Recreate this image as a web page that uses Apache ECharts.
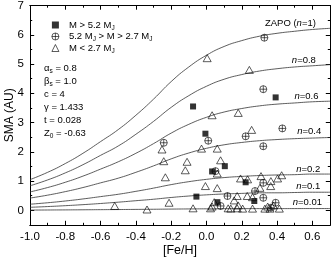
<!DOCTYPE html>
<html><head><meta charset="utf-8">
<script src="https://cdn.jsdelivr.net/npm/echarts@6/dist/echarts.min.js"></script>
<style>html,body{margin:0;padding:0;background:#fff}#c{width:332px;height:261px}</style>
</head><body><div id="c"></div>
<script>
// ---- data ----
const curveX = [-1.0,-0.9,-0.8,-0.7,-0.6,-0.5,-0.4,-0.3,-0.2,-0.1,0.0,0.1,0.2,0.3,0.4,0.5,0.6,0.7];
const zapo  = [1.05,1.30,1.60,1.95,2.35,2.76,3.25,3.80,4.40,4.90,5.30,5.60,5.80,5.95,6.05,6.12,6.18,6.22];
const n08   = [0.84,1.04,1.28,1.56,1.88,2.20,2.60,3.04,3.52,3.92,4.24,4.48,4.64,4.76,4.84,4.90,4.94,4.98];
const n06   = [0.63,0.78,0.96,1.17,1.41,1.66,1.95,2.28,2.64,2.94,3.18,3.36,3.48,3.57,3.63,3.67,3.71,3.73];
const n04   = [0.42,0.52,0.64,0.78,0.94,1.10,1.30,1.52,1.76,1.96,2.12,2.24,2.32,2.38,2.42,2.45,2.47,2.49];
const n02   = [0.21,0.26,0.32,0.39,0.47,0.55,0.65,0.76,0.88,0.98,1.06,1.12,1.16,1.19,1.21,1.22,1.24,1.24];
const n01   = [0.105,0.13,0.16,0.195,0.235,0.28,0.33,0.38,0.44,0.49,0.53,0.56,0.58,0.60,0.60,0.61,0.62,0.62];
const n001  = [0.01,0.013,0.016,0.02,0.024,0.028,0.033,0.038,0.044,0.049,0.053,0.056,0.058,0.06,0.06,0.061,0.062,0.062];
const curveNames = ['ZAPO (n=1)','n=0.8','n=0.6','n=0.4','n=0.2','n=0.1','n=0.01'];
const curveLabelPos = [[0.62,6.39],[0.62,5.12],[0.635,3.89],[0.65,2.70],[0.645,1.40],[0.645,0.81],[0.655,0.26]];

const bigM = [[0.392,3.86],[-0.076,3.55],[-0.006,2.62],[0.104,1.51],[0.032,1.33],[0.222,0.96],[-0.057,0.47],[0.062,0.28],[0.271,0.32]];
const midM = [[0.328,5.90],[0.322,4.14],[0.43,2.80],[0.01,2.38],[0.222,2.53],[0.322,2.19],[0.051,1.34],[0.322,0.94],[0.275,0.66],[0.08,0.15],[0.119,0.49],[0.322,0.43],[0.365,0.09],[0.392,0.26],[-0.242,2.31]];
const smallM = [[0.004,5.2],[0.243,4.80],[0.032,3.25],[0.18,3.33],[0.256,2.75],[-0.028,2.11],[0.061,2.11],[0.08,1.71],[-0.11,1.66],[-0.12,1.37],[0.061,1.26],[0.193,1.09],[0.233,1.06],[0.309,1.17],[0.365,1.0],[0.426,1.2],[0.403,1.09],[0.364,0.83],[0.303,0.77],[-0.006,0.83],[0.061,0.76],[-0.212,0.26],[-0.076,0.07],[0.023,0.07],[0.032,0.13],[0.044,0.28],[0.174,0.49],[0.157,0.34],[0.123,0.07],[0.138,0.06],[0.174,0.07],[0.18,0.17],[0.205,0.06],[0.231,0.49],[0.261,0.45],[0.261,0.06],[0.331,0.06],[0.36,0.06],[0.379,0.17],[0.413,0.06],[0.347,0.13],[-0.252,2.08],[-0.242,1.68],[-0.233,1.13],[-0.52,0.15],[-0.337,0.03]];

const xMin = -1.0, xMax = 0.7, yMin = -0.5, yMax = 7;

// ---- chart ----
const FONT = 'Liberation Sans, Arial, sans-serif';
const chart = echarts.init(document.getElementById('c'), null, {renderer:'canvas'});
const circlePlus = 'path://M10,0A10,10,0,1,1,10,20A10,10,0,1,1,10,0ZM0,10L20,10M10,0L10,20';
const black = '#000';
const axLine = {show:true, onZero:false, lineStyle:{color:black, width:1}};

function xAx(pos, interval, len, labels) {
  return {type:'value', position:pos, min:xMin, max:xMax, interval:interval,
    axisLine:axLine, splitLine:{show:false},
    axisTick:{show:true, inside:true, length:len, lineStyle:{color:black, width:1}},
    axisLabel: labels ? {show:true, margin:6, color:black, fontFamily:FONT, fontSize:11.5,
      showMaxLabel:false, formatter:v => (Math.abs(v-0.7)<1e-6 ? '' : v.toFixed(1))} : {show:false}};
}
function yAxData(pos) {
  return {type:'value', position:pos, min:yMin, max:yMax, interval:0.5,
    axisLine:axLine, splitLine:{show:false},
    axisTick:{show:true, inside:true, length:2.2, lineStyle:{color:black, width:1}},
    axisLabel:{show:false}};
}
function yAxMajor(pos, labels) {
  const a = {type:'value', position:pos, inverse:true, min:-yMax, max:-yMin, interval:1,
    axisLine:axLine, splitLine:{show:false},
    axisTick:{show:true, inside:true, length:4.2, lineStyle:{color:black, width:1}},
    axisLabel: labels ? {show:true, margin:6, color:black, fontFamily:FONT, fontSize:11.5,
      formatter:v => (v > 0 ? '' : String(Math.abs(v)))} : {show:false}};
  if (labels) {
    a.name = 'SMA (AU)'; a.nameLocation = 'middle'; a.nameGap = 14; a.nameMoveOverlap = false;
    a.nameTextStyle = {color:black, fontFamily:FONT, fontSize:12};
  }
  return a;
}
const xa0 = xAx('bottom', 0.2, 4.2, true);
xa0.name = '[Fe/H]'; xa0.nameLocation = 'middle'; xa0.nameGap = 19; xa0.nameMoveOverlap = false;
xa0.nameTextStyle = {color:black, fontFamily:FONT, fontSize:12.5};

const rs = {lineHeight:13, fontFamily:FONT, fontSize:9.5, color:black};
const rich = {
  t: Object.assign({}, rs),
  i: Object.assign({}, rs, {fontStyle:'italic'}),
  sub: {fontFamily:FONT, fontSize:6.5, color:black, verticalAlign:'bottom', padding:[0,0,0,0]},
  p: Object.assign({}, rs, {padding:[0,0,0,5]})
};
const legendText = {
  big: '{p|M > 5.2 M}{sub|J}',
  mid: '{p|5.2 M}{sub|J}{t| > M > 2.7 M}{sub|J}',
  small: '{p|M < 2.7 M}{sub|J}'
};

const series = [];
const curves = [zapo, n08, n06, n04, n02, n01, n001];
curves.forEach((c, k) => {
  series.push({type:'line', name:curveNames[k], xAxisIndex:0, yAxisIndex:0, smooth:true,
    symbol:'none', silent:true, lineStyle:{color:'#333', width:0.8},
    data: curveX.map((x, i) => [x, c[i]]), z:2});
});
series.push({type:'scatter', name:'small', xAxisIndex:0, yAxisIndex:0, symbol:'triangle', symbolSize:[8,7],
  itemStyle:{color:'rgba(255,255,255,0)', borderColor:black, borderWidth:0.8}, data:smallM, z:3});
series.push({type:'scatter', name:'mid', xAxisIndex:0, yAxisIndex:0, symbol:circlePlus, symbolSize:7,
  itemStyle:{color:'rgba(255,255,255,0)', borderColor:black, borderWidth:0.8}, data:midM, z:4});
series.push({type:'scatter', name:'big', xAxisIndex:0, yAxisIndex:0, symbol:'rect', symbolSize:6,
  itemStyle:{color:black}, data:bigM, z:5});

chart.setOption({
  animation:false,
  backgroundColor:'#fff',
  grid:{left:30, right:2, top:5.5, bottom:36, containLabel:false, outerBoundsMode:'none'},
  xAxis:[xa0, xAx('bottom', 0.1, 2.2, false), xAx('top', 0.2, 4.2, false), xAx('top', 0.1, 2.2, false)],
  yAxis:[yAxData('left'), yAxMajor('left', true), yAxData('right'), yAxMajor('right', false)],
  legend:{orient:'vertical', left:46.5, top:15, itemWidth:7, itemHeight:7, itemGap:0,
    textStyle:{color:black, fontFamily:FONT, fontSize:9.5, rich:rich},
    formatter: n => legendText[n],
    data:[
      {name:'big', icon:'rect', itemStyle:{color:black, borderWidth:0}},
      {name:'mid', icon:circlePlus, itemStyle:{color:'rgba(255,255,255,0)', borderColor:black, borderWidth:0.8}},
      {name:'small', icon:'triangle', itemStyle:{color:'rgba(255,255,255,0)', borderColor:black, borderWidth:0.8}}
    ]},
  title:{left:44, top:62, padding:0, itemGap:0,
    text:'{t|α}{sub|s}{t| = 0.8}\n{t|β}{sub|s}{t| = 1.0}\n{t|c = 4}\n{t|γ = 1.433}\n{t|t = 0.028}\n{t|Z}{sub|0}{t| = -0.63}',
    textStyle:{color:black, fontFamily:FONT, fontSize:9.5, fontWeight:'normal', lineHeight:13, rich:rich}},
  series:series
});

// curve labels placed in data coordinates
const labelTexts = ['{t|ZAPO (}{i|n}{t|=1)}','{i|n}{t|=0.8}','{i|n}{t|=0.6}','{i|n}{t|=0.4}','{i|n}{t|=0.2}','{i|n}{t|=0.1}','{i|n}{t|=0.01}'];
const graphics = curveLabelPos.map((p, k) => {
  const px = chart.convertToPixel({xAxisIndex:0, yAxisIndex:0}, p);
  return {type:'text', x:px[0], y:px[1], silent:true,
    style:{text:labelTexts[k], rich:rich, align:'right', verticalAlign:'middle', fill:black, font:'9.5px ' + FONT}};
});
chart.setOption({graphic:graphics});
</script>
</body></html>
